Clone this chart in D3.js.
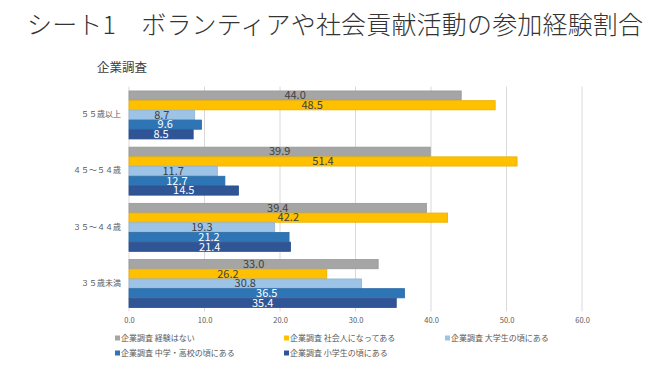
<!DOCTYPE html>
<html>
<head>
<meta charset="utf-8">
<script src="https://cdn.jsdelivr.net/npm/d3@7"></script>
<style>
  body { margin: 0; background: #fff; }
  text { font-family: "Noto Sans CJK JP", "Noto Sans", sans-serif; }
</style>
</head>
<body>
<div id="chart"></div>
<script>
var categories = ["５５歳以上", "４５～５４歳", "３５～４４歳", "３５歳未満"];
var seriesNames = ["企業調査 経験はない", "企業調査 社会人になってある", "企業調査 大学生の頃にある", "企業調査 中学・高校の頃にある", "企業調査 小学生の頃にある"];
var noExperience = [44.0, 39.9, 39.4, 33.0];
var asAdult = [48.5, 51.4, 42.2, 26.2];
var inUniversity = [8.7, 11.7, 19.3, 30.8];
var inJuniorHigh = [9.6, 12.7, 21.2, 36.5];
var inElementary = [8.5, 14.5, 21.4, 35.4];
var xTicks = [0, 10, 20, 30, 40, 50, 60];

var colors = ["#A5A5A5", "#FFC000", "#9DC3E6", "#2E75B6", "#2F5597"];
var labelColors = ["#404040", "#404040", "#404040", "#ffffff", "#ffffff"];
var seriesValues = [noExperience, asAdult, inUniversity, inJuniorHigh, inElementary];

var svgWidth = 670, svgHeight = 377;
var svg = d3.select("#chart").append("svg")
  .attr("width", svgWidth)
  .attr("height", svgHeight);

// title
svg.append("text")
  .attr("x", 27).attr("y", 34)
  .attr("font-size", 25)
  .attr("font-weight", 300)
  .attr("textLength", 616)
  .attr("fill", "#333333")
  .text("シート1　ボランティアや社会貢献活動の参加経験割合");

svg.append("text")
  .attr("x", 97).attr("y", 72)
  .attr("font-size", 12.5)
  .attr("fill", "#404040")
  .text("企業調査");

var xScale = d3.scaleLinear().domain([0, 60]).range([129, 582]);
var yScale = d3.scaleBand().domain(categories).range([86.6, 311.4]).paddingInner(0.137).paddingOuter(0.0685);
var inner = d3.scaleBand().domain(d3.range(5)).range([0, yScale.bandwidth()]);

// gridlines
svg.append("g").selectAll("line")
  .data(xTicks).enter().append("line")
  .attr("x1", d => xScale(d)).attr("x2", d => xScale(d))
  .attr("y1", 86.6).attr("y2", 311.4)
  .attr("stroke", "#D9D9D9").attr("stroke-width", 1);

// x axis
var xAxis = d3.axisBottom(xScale).tickValues(xTicks).tickSize(0).tickFormat(d3.format(".1f"));
var gx = svg.append("g").attr("transform", "translate(0,315)").call(xAxis);
gx.select(".domain").remove();
gx.selectAll("text").attr("font-size", 7.5).attr("fill", "#595959");

// y axis labels
var yAxis = d3.axisLeft(yScale).tickSize(0).tickPadding(8);
var gy = svg.append("g").attr("transform", "translate(129,0)").call(yAxis);
gy.select(".domain").remove();
gy.selectAll("text").attr("font-size", 8).attr("fill", "#595959");

// table of rows
var rows = [];
categories.forEach(function(c, i) {
  seriesValues.forEach(function(vals, s) {
    rows.push({cat: c, s: s, value: vals[i]});
  });
});

var bars = svg.append("g");
bars.selectAll("rect")
  .data(rows).enter().append("rect")
  .attr("x", xScale(0))
  .attr("y", d => yScale(d.cat) + inner(d.s) + 0.5)
  .attr("width", d => xScale(d.value) - xScale(0))
  .attr("height", inner.bandwidth() - 0.5)
  .attr("fill", d => colors[d.s])
  .attr("stroke", d => d3.color(colors[d.s]).darker(0.25))
  .attr("stroke-width", 0.8);

bars.selectAll("text")
  .data(rows).enter().append("text")
  .attr("x", d => (xScale(0) + xScale(d.value)) / 2)
  .attr("y", d => yScale(d.cat) + inner(d.s) + inner.bandwidth() / 2 + 4)
  .attr("text-anchor", "middle")
  .attr("font-size", 11)
  .attr("fill", d => labelColors[d.s])
  .text(d => d3.format(".1f")(d.value));

// legend
var legendPos = [[115, 338], [284, 338], [445, 338], [115, 353], [284, 353]];
var legend = svg.append("g").selectAll("g")
  .data(seriesNames).enter().append("g")
  .attr("transform", (d, i) => `translate(${legendPos[i][0]},${legendPos[i][1]})`);
legend.append("rect")
  .attr("x", 0).attr("y", -2.5).attr("width", 5).attr("height", 5)
  .attr("fill", (d, i) => colors[i]);
legend.append("text")
  .attr("x", 6).attr("y", 3)
  .attr("font-size", 8)
  .attr("fill", "#595959")
  .text(d => d);
</script>
</body>
</html>
